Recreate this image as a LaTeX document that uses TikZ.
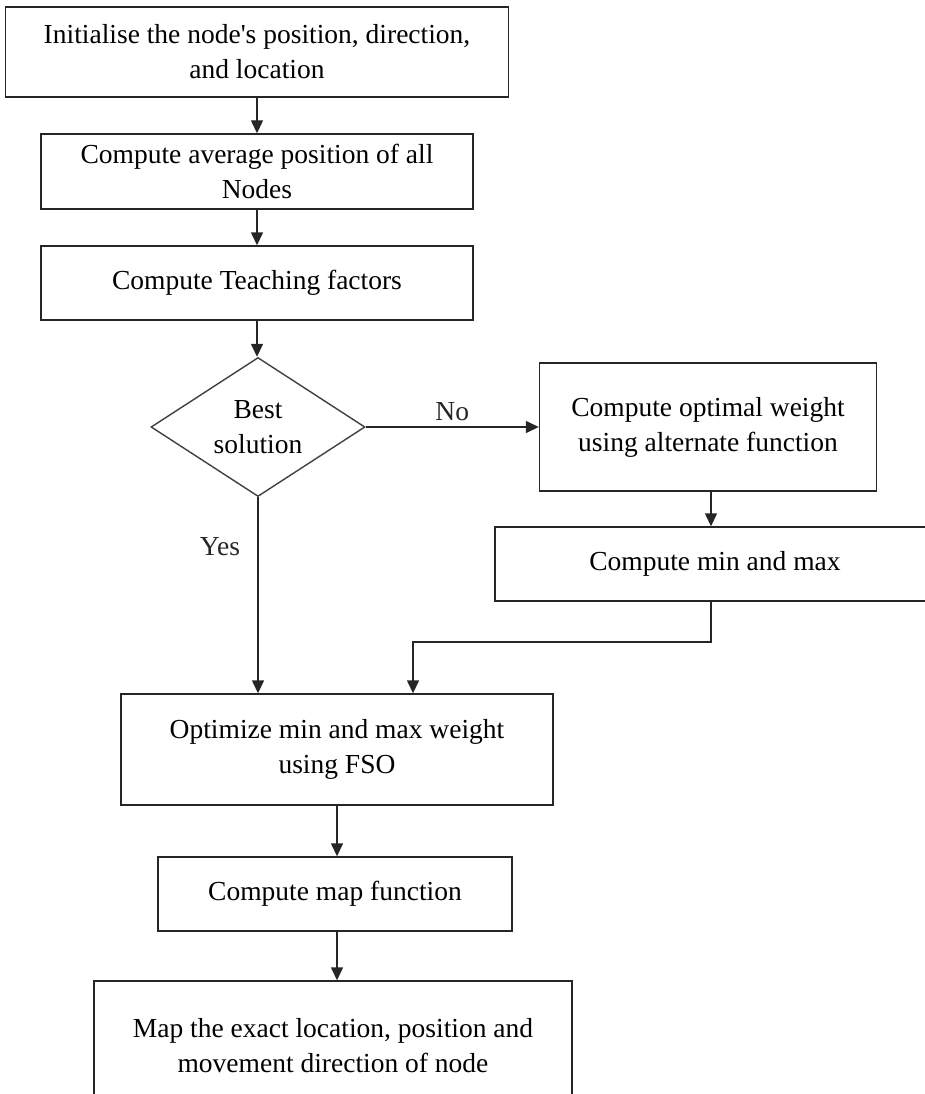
\documentclass[tikz,border=0pt]{standalone}
\usepackage{fontspec}
\setmainfont{Liberation Serif}
\usetikzlibrary{arrows.meta,positioning,shapes.geometric}
\tikzset{
  blk/.style={draw=black!85, line width=1.4pt, align=center, inner sep=0pt,
              font=\fontsize{27.5}{35}\selectfont},
  decide/.style={diamond, draw=black!75, line width=1.4pt, align=center, inner sep=0pt,
              aspect=1.54, minimum width=214pt, minimum height=139pt,
              font=\fontsize{27.5}{35}\selectfont},
  flowarr/.style={-{Triangle[length=13pt,width=12pt]}, line width=1.4pt, black!85},
  lbl/.style={font=\fontsize{27.5}{35}\selectfont},
}

\begin{document}
\begin{tikzpicture}[x=1pt, y=-1pt]
  \useasboundingbox (0,0) rectangle (925,1094);
  % main column
  \node[blk, minimum width=503pt, minimum height=90pt] (init) at (257,52)
       {Initialise the node\textquotesingle s position, direction,\\ and location};
  \node[blk, minimum width=432pt, minimum height=75pt] (avg) at (257,171.5)
       {Compute average position of all\\ Nodes};
  \node[blk, minimum width=432pt, minimum height=74pt] (teach) at (257,283)
       {Compute Teaching factors};
  \node[decide] (best) at (258,427) {Best\\ solution};
  % right branch
  \node[blk, minimum width=337pt, minimum height=128pt] (optw) at (708,427)
       {Compute optimal weight\\ using alternate function};
  \node[blk, minimum width=440pt, minimum height=74pt] (minmax) at (715,564)
       {Compute min and max};
  % lower column
  \node[blk, minimum width=432pt, minimum height=111pt] (fso) at (337,749.5)
       {Optimize min and max weight\\ using FSO};
  \node[blk, minimum width=354pt, minimum height=74pt] (mapfn) at (335,894)
       {Compute map function};
  \node[blk, minimum width=478pt, minimum height=130pt] (mapexact) at (333,1046)
       {Map the exact location, position and\\ movement direction of node};
  \coordinate (join) at (413,642);

  \draw[flowarr] (init.south) -- (init.south |- avg.north);
  \draw[flowarr] (avg.south) -- (avg.south |- teach.north);
  \draw[flowarr] (teach.south) -- (teach.south |- best.north);
  \draw[flowarr] (best.east) -- node[lbl, above=2pt] {No} (optw.west);
  \draw[flowarr] (best.south) -- node[lbl, pos=0.25, left=14pt] {Yes} (best.south |- fso.north);
  \draw[flowarr] ([xshift=3pt]optw.south) -- ([xshift=3pt]optw.south |- minmax.north);
  \draw[flowarr] ([xshift=-4pt]minmax.south) |- (join) -- (join |- fso.north);
  \draw[flowarr] (fso.south) -- (fso.south |- mapfn.north);
  \draw[flowarr] (fso.south |- mapfn.south) -- (fso.south |- mapexact.north);
\end{tikzpicture}
\end{document}
